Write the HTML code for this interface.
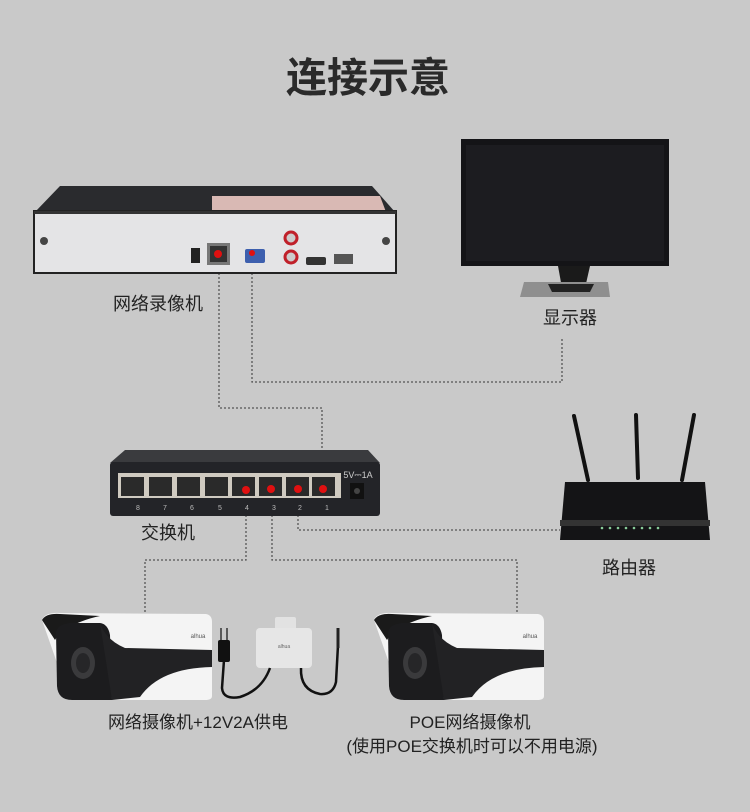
<!DOCTYPE html>
<html><head><meta charset="utf-8"><style>
html,body{margin:0;padding:0;background:#c9c9c9;}
svg{display:block}
text{font-family:"Liberation Sans","Noto Sans CJK SC",sans-serif;fill:#222}
</style></head><body>
<svg width="750" height="812" viewBox="0 0 750 812" xmlns="http://www.w3.org/2000/svg">
<rect width="750" height="812" fill="#c9c9c9"/>
<text x="368" y="92" font-size="41" text-anchor="middle" font-weight="bold" style="fill:#2a2a2a">连接示意</text>

<!-- dotted connectors -->
<g fill="none" stroke="#555" stroke-width="1.3" stroke-dasharray="2,2">
<polyline points="219,265 219,408 322,408 322,480"/>
<polyline points="252,265 252,382 562,382 562,338"/>
<polyline points="246,515 246,560 145,560 145,612"/>
<polyline points="272,515 272,560 517,560 517,612"/>
<polyline points="298,515 298,530 560,530"/>
</g>

<!-- NVR -->
<polygon points="35,212 60,186 372,186 395,212" fill="#2a2b2e"/>
<polygon points="212,196 380,196 386,212 212,212" fill="#d9b9b4"/>
<rect x="34" y="211" width="362" height="62" fill="#e4e4e6" stroke="#222" stroke-width="2"/>
<rect x="34" y="211" width="362" height="3" fill="#333"/>
<circle cx="44" cy="241" r="4" fill="#444"/><circle cx="386" cy="241" r="4" fill="#444"/>
<rect x="191" y="248" width="9" height="15" fill="#222"/>
<rect x="207" y="243" width="23" height="22" fill="#777"/><rect x="210" y="246" width="17" height="16" fill="#333"/><circle cx="218" cy="254" r="4" fill="#e01010"/>
<rect x="245" y="249" width="20" height="14" rx="2" fill="#3d5fae"/><circle cx="252" cy="253" r="3" fill="#e01010"/>
<circle cx="291" cy="238" r="6" fill="#ccc" stroke="#c0202a" stroke-width="3"/>
<circle cx="291" cy="257" r="6" fill="#ccc" stroke="#c0202a" stroke-width="3"/>
<rect x="306" y="257" width="20" height="8" rx="2" fill="#333"/>
<rect x="334" y="254" width="19" height="10" fill="#555"/>

<text x="158" y="310" font-size="18" text-anchor="middle">网络录像机</text>

<!-- Monitor -->
<rect x="461" y="139" width="208" height="127" fill="#141417"/>
<rect x="466" y="145" width="198" height="116" fill="#1c1c20"/>
<polygon points="558,266 590,266 585,288 562,288" fill="#1a1a1a"/>
<polygon points="524,282 608,282 610,297 520,297" fill="#8f8f8f"/>
<polygon points="548,284 594,284 590,292 552,292" fill="#222"/>
<text x="570" y="324" font-size="18" text-anchor="middle">显示器</text>

<!-- Switch -->
<polygon points="110,463 125,450 368,450 380,463" fill="#3a3b3e"/>
<rect x="110" y="462" width="270" height="54" rx="3" fill="#232428"/>
<rect x="118" y="473" width="223" height="25" fill="#cfcac0"/>
<g fill="#2a2a2a">
<rect x="121" y="477" width="23" height="19"/><rect x="149" y="477" width="23" height="19"/><rect x="177" y="477" width="23" height="19"/><rect x="205" y="477" width="23" height="19"/>
<rect x="232" y="477" width="23" height="19"/><rect x="259" y="477" width="23" height="19"/><rect x="286" y="477" width="23" height="19"/><rect x="312" y="477" width="23" height="19"/>
</g>
<g fill="#e01010"><circle cx="246" cy="490" r="4"/><circle cx="271" cy="489" r="4"/><circle cx="298" cy="489" r="4"/><circle cx="323" cy="489" r="4"/></g>
<g font-size="7" text-anchor="middle">
<text x="138" y="510" style="fill:#bbb">8</text><text x="165" y="510" style="fill:#bbb">7</text><text x="192" y="510" style="fill:#bbb">6</text><text x="220" y="510" style="fill:#bbb">5</text><text x="247" y="510" style="fill:#bbb">4</text><text x="274" y="510" style="fill:#bbb">3</text><text x="300" y="510" style="fill:#bbb">2</text><text x="327" y="510" style="fill:#bbb">1</text>
</g>
<text x="358" y="478" font-size="9" text-anchor="middle" style="fill:#ccc">5V⎓1A</text>
<rect x="350" y="483" width="14" height="16" fill="#111"/><circle cx="357" cy="491" r="3" fill="#444"/>
<text x="168" y="539" font-size="18" text-anchor="middle">交换机</text>

<!-- Router -->
<g stroke="#111" stroke-width="4" stroke-linecap="round">
<line x1="574" y1="416" x2="588" y2="480"/><line x1="636" y1="415" x2="638" y2="478"/><line x1="694" y1="415" x2="682" y2="480"/>
</g>
<polygon points="565,482 705,482 710,540 560,540" fill="#141416"/>
<rect x="560" y="520" width="150" height="6" fill="#333"/>
<g fill="#8c9"><circle cx="602" cy="528" r="1.3"/><circle cx="610" cy="528" r="1.3"/><circle cx="618" cy="528" r="1.3"/><circle cx="626" cy="528" r="1.3"/><circle cx="634" cy="528" r="1.3"/><circle cx="642" cy="528" r="1.3"/><circle cx="650" cy="528" r="1.3"/><circle cx="658" cy="528" r="1.3"/></g>
<text x="629" y="574" font-size="18" text-anchor="middle">路由器</text>

<!-- Cameras -->
<g id="cam">
<path d="M42,620 Q45,612 60,613 L206,614 Q212,615 212,622 L212,696 Q212,700 205,700 L70,700 Z" fill="#f4f4f4"/>
<path d="M42,620 Q46,613 60,614 L100,616 Q80,620 60,632 L55,640 Z" fill="#1a1a1a"/>
<path d="M56,632 Q58,624 70,623 L100,623 Q108,624 110,635 L112,700 L72,700 Q58,700 57,686 Z" fill="#1c1c1e"/>
<path d="M100,623 Q106,640 125,648 L212,650 L212,667 Q160,668 140,697 L112,700 Z" fill="#222224"/>
<ellipse cx="83" cy="663" rx="12" ry="16" fill="#3a3a3c"/>
<ellipse cx="83" cy="663" rx="7" ry="10" fill="#262628"/>
<text x="198" y="638" font-size="6" text-anchor="middle" style="fill:#555">alhua</text>
</g>
<use href="#cam" transform="translate(332,0)"/>

<!-- Adapter -->
<rect x="275" y="617" width="21" height="14" rx="2" fill="#e2e2e2"/>
<rect x="256" y="628" width="56" height="40" rx="4" fill="#e6e6e6"/>
<text x="284" y="648" font-size="5" text-anchor="middle" style="fill:#666">alhua</text>
<g fill="none" stroke="#111" stroke-width="2.5">
<path d="M224,660 L222,688 Q223,700 240,697 Q262,690 270,668"/>
<path d="M301,668 Q300,690 320,694 Q333,695 336,682 L338,645"/>
</g>
<rect x="218" y="640" width="12" height="22" rx="2" fill="#111"/>
<line x1="221" y1="628" x2="221" y2="640" stroke="#333" stroke-width="1.5"/>
<line x1="227" y1="628" x2="227" y2="640" stroke="#333" stroke-width="1.5"/>
<line x1="338" y1="628" x2="338" y2="648" stroke="#222" stroke-width="3"/>

<text x="198" y="728" font-size="17" text-anchor="middle">网络摄像机+12V2A供电</text>
<text x="470" y="728" font-size="17" text-anchor="middle">POE网络摄像机</text>
<text x="472" y="752" font-size="17" text-anchor="middle">(使用POE交换机时可以不用电源)</text>
</svg>
</body></html>
